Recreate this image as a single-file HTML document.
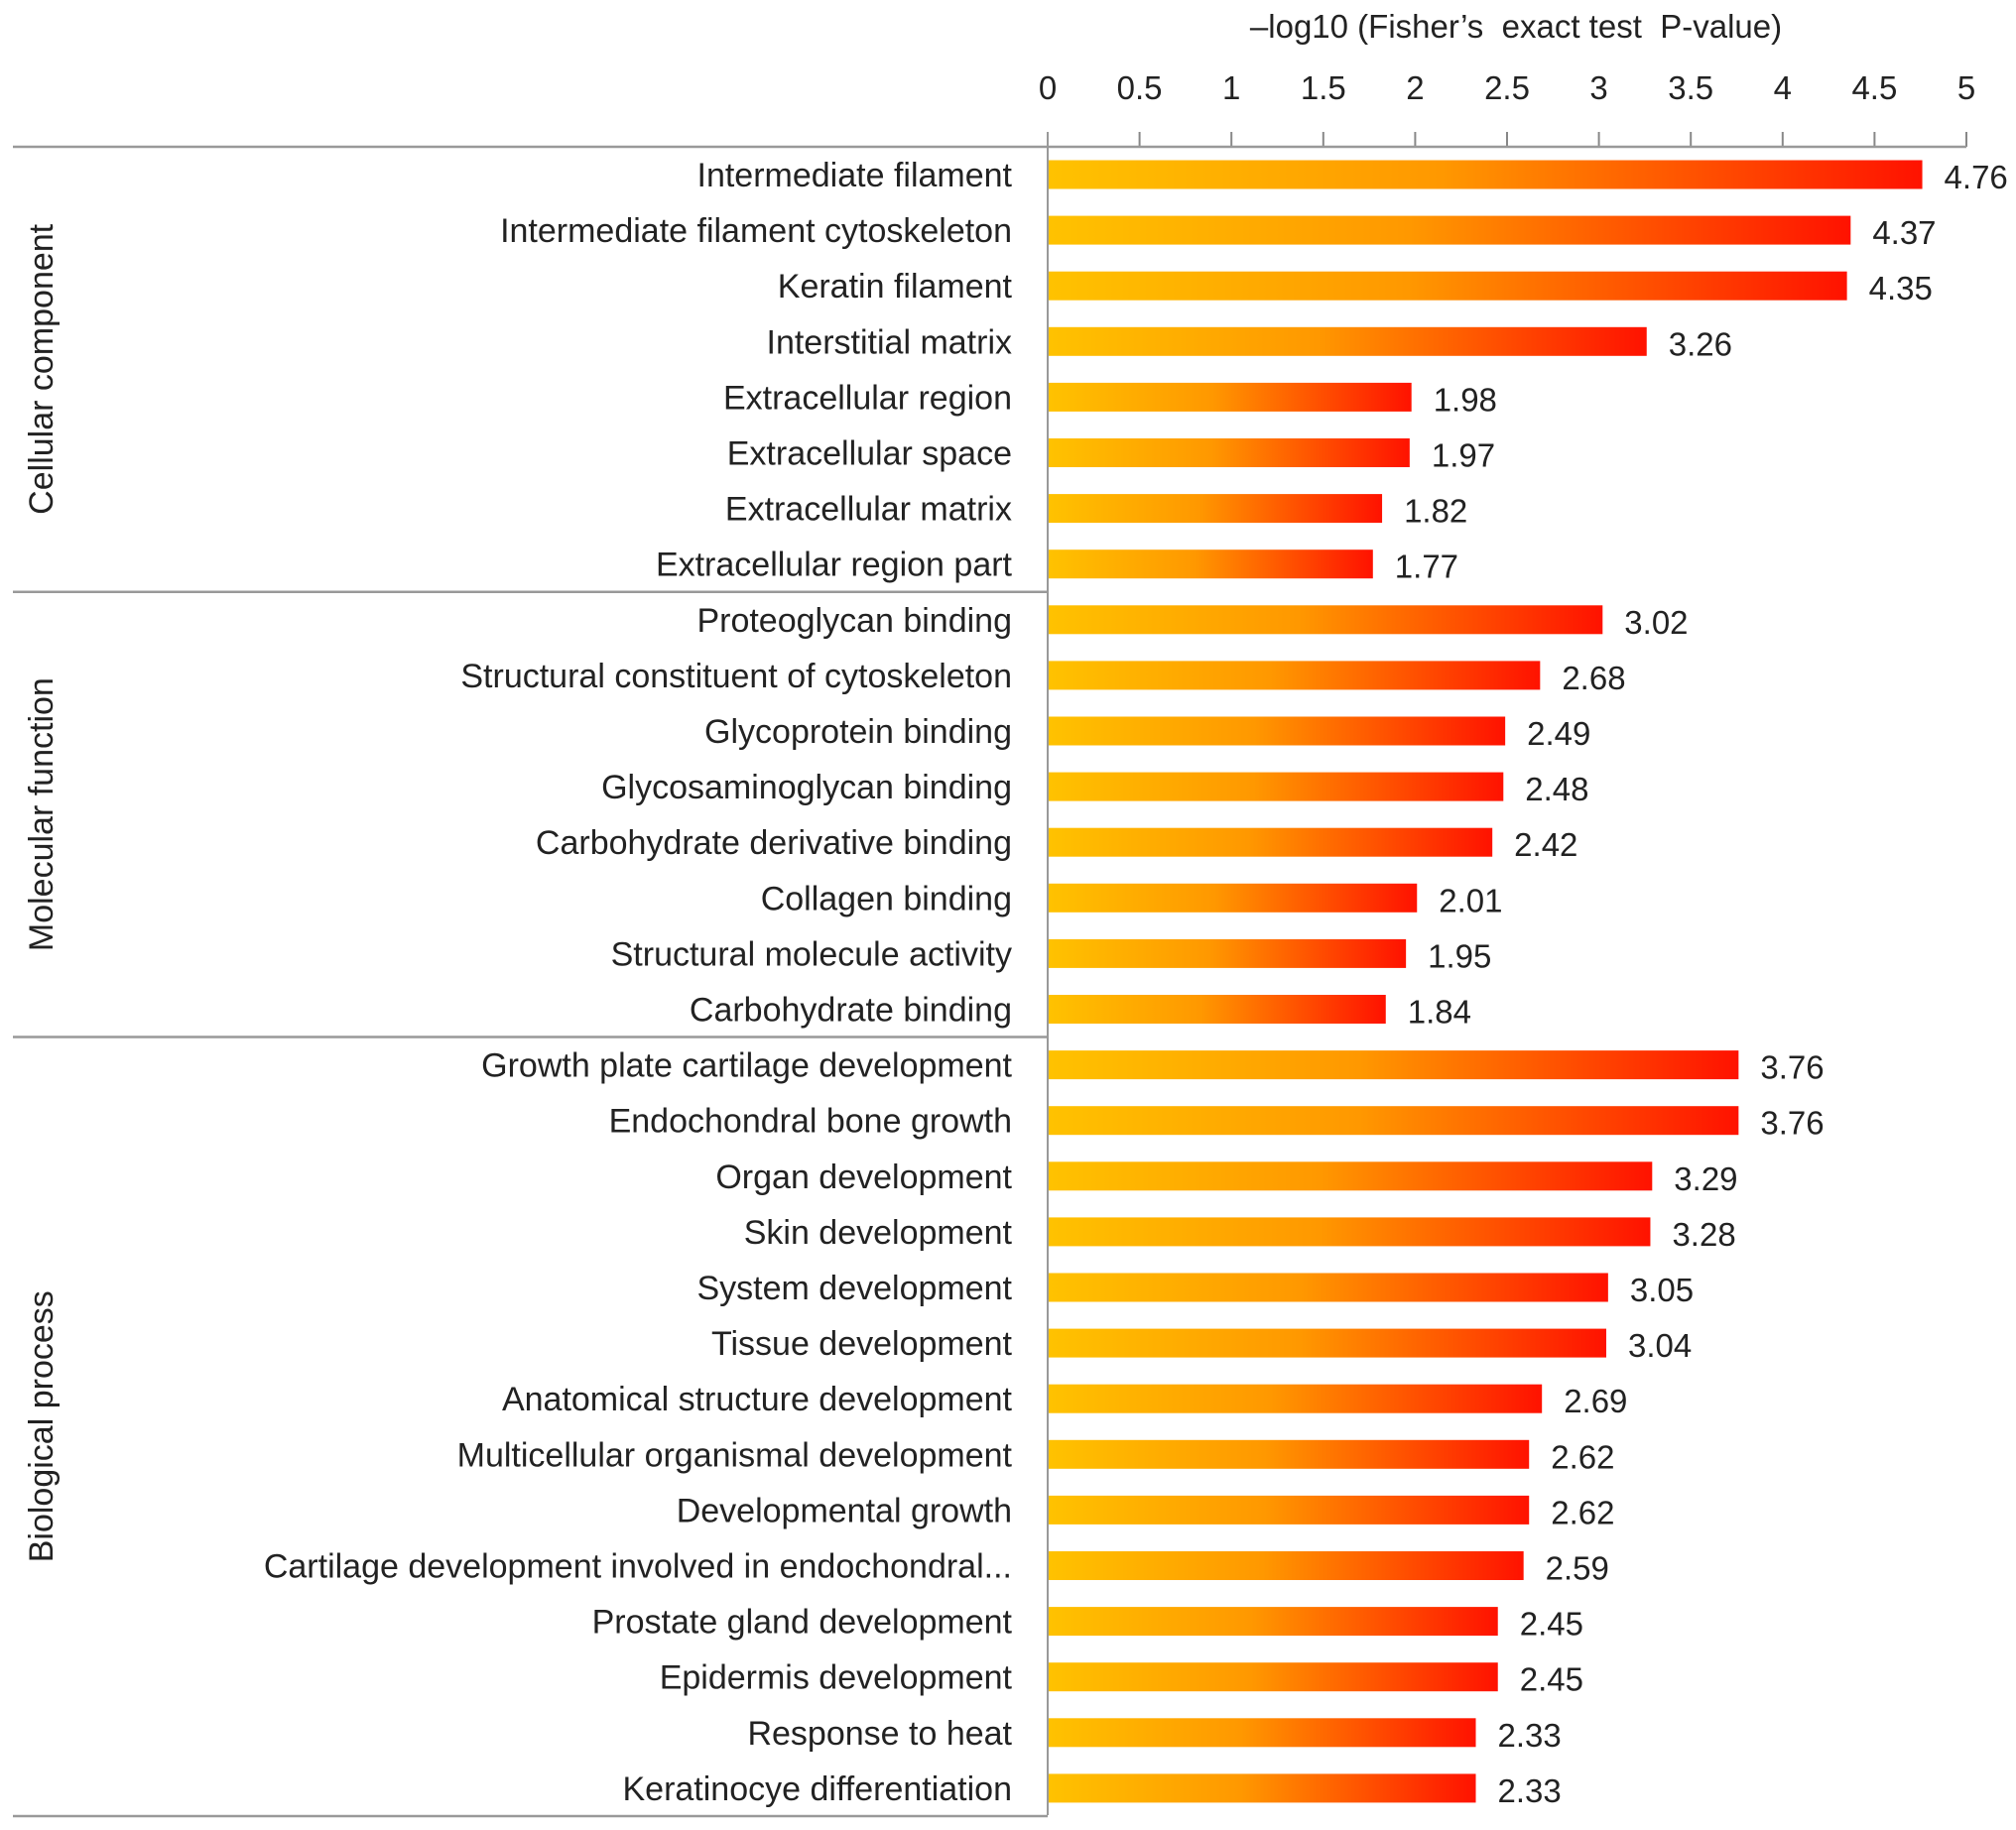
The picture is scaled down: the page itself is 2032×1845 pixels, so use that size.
<!DOCTYPE html>
<html><head><meta charset="utf-8"><style>
html,body{margin:0;padding:0;background:#fff;}
svg{display:block;font-family:"Liberation Sans",Arial,sans-serif;}
</style></head><body>
<svg id="chart" width="2032" height="1845" viewBox="0 0 2032 1845" xmlns="http://www.w3.org/2000/svg">
<defs><linearGradient id="barGrad" x1="0" y1="0" x2="1" y2="0">
<stop offset="0" stop-color="#FFC200"/><stop offset="0.45" stop-color="#FF9800"/><stop offset="1" stop-color="#FF1200"/></linearGradient></defs>
<text x="1528" y="38" font-size="33" text-anchor="middle" fill="#222" xml:space="preserve">–log10 (Fisher’s  exact test  P-value)</text>
<g id="axis"></g><g id="bars"></g>
</svg>
<script>
const categories = ["Intermediate filament","Intermediate filament cytoskeleton","Keratin filament","Interstitial matrix","Extracellular region","Extracellular space","Extracellular matrix","Extracellular region part","Proteoglycan binding","Structural constituent of cytoskeleton","Glycoprotein binding","Glycosaminoglycan binding","Carbohydrate derivative binding","Collagen binding","Structural molecule activity","Carbohydrate binding","Growth plate cartilage development","Endochondral bone growth","Organ development","Skin development","System development","Tissue development","Anatomical structure development","Multicellular organismal development","Developmental growth","Cartilage development involved in endochondral...","Prostate gland development","Epidermis development","Response to heat","Keratinocye differentiation"];
const values = [4.76,4.37,4.35,3.26,1.98,1.97,1.82,1.77,3.02,2.68,2.49,2.48,2.42,2.01,1.95,1.84,3.76,3.76,3.29,3.28,3.05,3.04,2.69,2.62,2.62,2.59,2.45,2.45,2.33,2.33];
const groups = ["Cellular component","Molecular function","Biological process"];
const groupSizes = [8,8,14];
const ticks = [0,0.5,1,1.5,2,2.5,3,3.5,4,4.5,5];
const tickLabels = ["0","0.5","1","1.5","2","2.5","3","3.5","4","4.5","5"];

const NS="http://www.w3.org/2000/svg";
const x0=1056, pxPer=185.2, y0=176, step=56.1, barH=29;
const xs=v=>x0+v*pxPer;
const yc=i=>y0+i*step;
function mk(tag,attrs,parent){const e=document.createElementNS(NS,tag);for(const k in attrs)e.setAttribute(k,attrs[k]);parent.appendChild(e);return e;}
const axis=document.getElementById('axis'), bars=document.getElementById('bars');

ticks.forEach((t,i)=>{
  const l=mk('line',{x1:xs(t),x2:xs(t),y1:133,y2:148,stroke:'#888','stroke-width':2},axis);
  
  
  const tx=mk('text',{x:xs(t),y:100,'font-size':33,'text-anchor':'middle',fill:'#222'},axis);
  tx.textContent=tickLabels[i];
  
  
});
const al=mk('line',{x1:13,x2:xs(5),y1:148,y2:148,stroke:'#999','stroke-width':2.5},axis);


const vl=mk('line',{x1:x0,x2:x0,y1:133,y2:1830,stroke:'#999','stroke-width':2},axis);



let start=0;
groups.forEach((g,gi)=>{
  const n=groupSizes[gi];
  const yBottom=yc(start+n-1)+step/2;
  const sep=mk('line',{x1:13,x2:x0,y1:yBottom,y2:yBottom,stroke:'#999','stroke-width':2.5},axis);
  
  
  const cy=(yc(start)+yc(start+n-1))/2;
  const gt=mk('text',{x:0,y:0,'font-size':34,'text-anchor':'middle',fill:'#222',transform:`translate(53,${cy}) rotate(-90)`},axis);
  gt.textContent=g;
  
  
  start+=n;
});

categories.forEach((c,i)=>{
  const y=yc(i);
  const lb=mk('text',{x:1020,y:y+12,'font-size':34,'text-anchor':'end',fill:'#222'},bars);
  lb.textContent=c;
  
  
  const r=mk('rect',{x:x0+1,y:y-barH/2,width:xs(values[i])-x0-1,height:barH,fill:'url(#barGrad)'},bars);
  
  
  const vt=mk('text',{x:xs(values[i])+22,y:y+14,'font-size':33,fill:'#222'},bars);
  vt.textContent=values[i].toFixed(2);
  
  
});
</script>
</body></html>
